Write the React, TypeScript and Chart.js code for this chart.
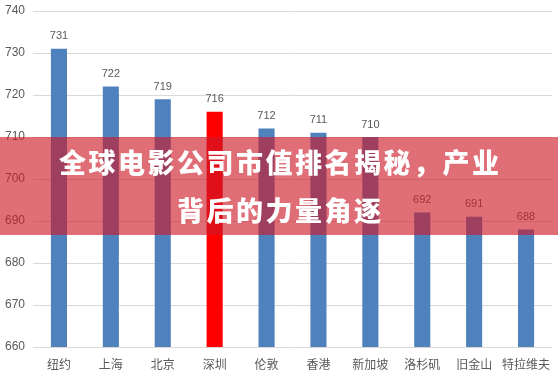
import React, { useEffect, useRef } from "react";
import { Chart, registerables } from "chart.js";

Chart.register(...registerables);

const categories = ["纽约", "上海", "北京", "深圳", "伦敦", "香港", "新加坡", "洛杉矶", "旧金山", "特拉维夫"];
const values = [731, 722, 719, 716, 712, 711, 710, 692, 691, 688];
const highlight = "深圳";
const yTicks = [660, 670, 680, 690, 700, 710, 720, 730, 740];
const titleLines = ["全球电影公司市值排名揭秘，产业", "背后的力量角逐"];

const BLUE = "#4f81bd";
const RED = "#ff0000";

const valueLabels = {
  id: "valueLabels",
  afterDatasetsDraw(chart: any) {
    const ctx = chart.ctx;
    const meta = chart.getDatasetMeta(0);
    ctx.save();
    ctx.fillStyle = "#595959";
    ctx.font = "11px 'Liberation Sans', Arial, sans-serif";
    ctx.textAlign = "center";
    ctx.textBaseline = "bottom";
    meta.data.forEach((bar: any, i: number) => {
      ctx.fillText(String(values[i]), bar.x, bar.y - 7);
    });
    ctx.restore();
  },
};

export default function App() {
  const ref = useRef<HTMLCanvasElement>(null);
  useEffect(() => {
    document.body.style.margin = "0";
    const chart = new Chart(ref.current!, {
      type: "bar",
      data: {
        labels: categories,
        datasets: [
          {
            data: values,
            backgroundColor: categories.map((c) => (c === highlight ? RED : BLUE)),
            barPercentage: 0.62,
            categoryPercentage: 0.5,
          },
        ],
      },
      options: {
        animation: false,
        responsive: false,
        maintainAspectRatio: false,
        layout: { padding: { top: 11, right: 6, left: 0, bottom: 0 } },
        plugins: { legend: { display: false }, tooltip: { enabled: false } },
        scales: {
          x: {
            grid: { display: false },
            border: { display: false },
            ticks: {
              color: "#595959",
              font: { size: 12, family: "'Noto Sans CJK SC', sans-serif" },
              padding: 2,
              maxRotation: 0,
              autoSkip: false,
            },
            afterFit: (s: any) => {
              s.height = 27;
              s.paddingLeft = 0;
              s.paddingRight = 0;
            },
          },
          y: {
            min: 660,
            max: 740,
            afterBuildTicks: (s: any) => {
              s.ticks = yTicks.map((v) => ({ value: v }));
            },
            grid: { color: "#d9d9d9", drawTicks: false },
            border: { display: false },
            ticks: {
              color: "#595959",
              font: { size: 12, family: "'Liberation Sans', Arial, sans-serif" },
              padding: 8,
            },
            afterFit: (s: any) => {
              s.width = 33;
              s.paddingTop = 0;
              s.paddingBottom = 0;
            },
          },
        },
      },
      plugins: [valueLabels],
    });
    return () => chart.destroy();
  }, []);

  return (
    <div style={{ position: "relative", width: 558, height: 374, background: "#fff", overflow: "hidden" }}>
      <canvas ref={ref} width={558} height={374} style={{ display: "block" }} />
      <div
        style={{
          position: "absolute",
          left: 0,
          top: 137,
          width: 558,
          height: 98,
          background: "rgba(205, 25, 40, 0.63)",
          display: "flex",
          flexDirection: "column",
          alignItems: "center",
          justifyContent: "center",
          color: "#fff",
          fontFamily: "'Noto Sans CJK SC', sans-serif",
          fontWeight: 900,
          fontSize: 27,
          letterSpacing: 2.5,
          lineHeight: "48px",
          textAlign: "center",
        }}
      >
        {titleLines.map((t, i) => (
          <div key={i} style={{ marginRight: -2.5 }}>{t}</div>
        ))}
      </div>
    </div>
  );
}
